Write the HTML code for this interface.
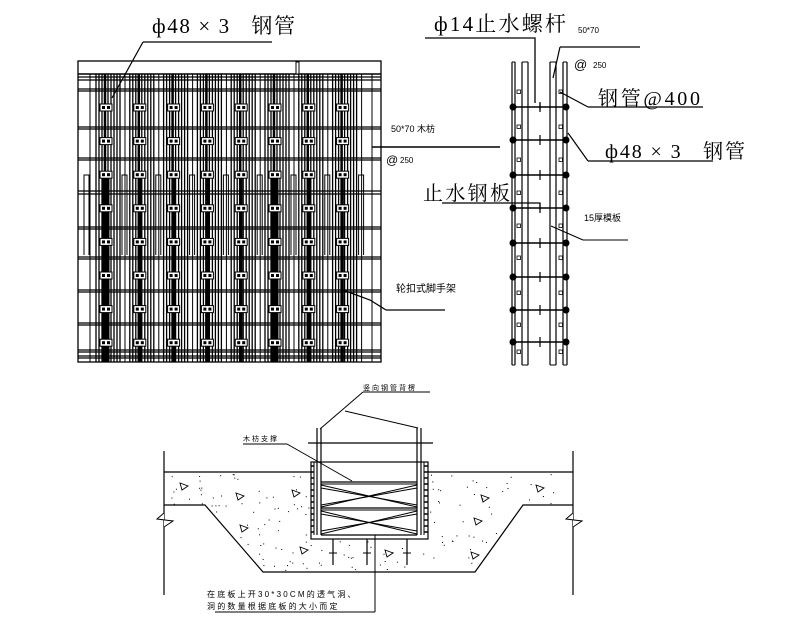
<!DOCTYPE html>
<html><head><meta charset="utf-8"><style>
html,body{margin:0;padding:0;background:#fff;width:800px;height:632px;overflow:hidden}
svg{display:block}
text{font-family:"Liberation Sans","Noto Sans CJK SC",sans-serif;fill:#000}
.s{font-family:"Liberation Serif","Noto Serif CJK SC","Noto Sans CJK SC",serif}
</style></head><body>
<svg id="g" width="800" height="632" viewBox="0 0 800 632" xmlns="http://www.w3.org/2000/svg" stroke="#000" fill="none">
<text class="s" x="152" y="33" font-size="21" stroke="none" textLength="143" lengthAdjust="spacing">ф48 × 3&#160;&#160;&#160;钢管</text>
<text class="s" x="434" y="31" font-size="21" stroke="none" textLength="132" lengthAdjust="spacing">ф14止水螺杆</text>
<text x="578" y="33" font-size="8" stroke="none">50*70</text>
<text x="574" y="69" font-size="13" stroke="none">@</text><text x="593" y="68" font-size="8" stroke="none">250</text>
<text class="s" x="598" y="105" font-size="20" stroke="none" textLength="102" lengthAdjust="spacing">钢管@400</text>
<text class="s" x="605" y="158" font-size="20" stroke="none" textLength="140" lengthAdjust="spacing">ф48 × 3&#160;&#160;&#160;钢管</text>
<text class="s" x="423" y="200" font-size="20" stroke="none" textLength="87" lengthAdjust="spacing">止水钢板</text>
<text x="584" y="221" font-size="9" stroke="none">15厚模板</text>
<text x="391" y="132" font-size="9" stroke="none">50*70 木枋</text>
<text x="386" y="164" font-size="12" stroke="none">@</text><text x="400" y="163" font-size="8" stroke="none">250</text>
<text x="396" y="292" font-size="10" stroke="none">轮扣式脚手架</text>
<text x="363" y="390" font-size="7" stroke="none" letter-spacing="2">竖向钢管背楞</text>
<text x="243" y="441" font-size="7" stroke="none" letter-spacing="2">木枋支撑</text>
<text x="207" y="597" font-size="8" stroke="none" letter-spacing="2.2">在底板上开30*30CM的透气洞、</text>
<text x="207" y="609" font-size="8" stroke="none" letter-spacing="2.2">洞的数量根据底板的大小而定</text>
<path d="M143 42H272M143 42L112 98" stroke-width="1.2"/>
<path d="M372 147H500" stroke-width="1.5"/>
<path d="M386 310H445M386 310L370 300L343 290" stroke-width="1.2"/>
<path d="M425 38H535V103" stroke-width="1.3"/>
<path d="M560 47H640M560 47L553 78" stroke-width="1.2"/>
<path d="M588 107H703M588 107L560 92" stroke-width="1.2"/>
<path d="M588 161H713M588 161L568 133" stroke-width="1.2"/>
<path d="M442 203H540V210" stroke-width="1.2"/>
<path d="M583 240H628M583 240L551 226" stroke-width="1"/>
</svg>
<script>
var s=document.getElementById('g'),o='';
function L(x1,y1,x2,y2,w){o+='<line x1="'+x1+'" y1="'+y1+'" x2="'+x2+'" y2="'+y2+'" stroke-width="'+(w||1)+'"/>';}
function R(x,y,w,h,sw,f){o+='<rect x="'+x+'" y="'+y+'" width="'+w+'" height="'+h+'" stroke-width="'+(sw||1)+'" fill="'+(f||'none')+'"/>';}
R(78,61,303,301,1.3);
L(78,74,381,74,1.5);
var hy=[77,80,89,91,127,129,158,160,191,194,227,229,257,259,290,292,323,325,350,352,356,358];
hy.forEach(function(y){L(78,y,381,y,1.2)});
for(var i=0;i<8;i++){
 var c=108+i*33.8;
 [-12,-9,-6,-3,0,3,6,9,12].forEach(function(d){L(c+d,74,c+d,362,1.3)});
 L(c-3,74,c-3,362,2.5);
 var thick=(i==0||i==5)?7:(i==1||i==2||i==3||i==6)?4:2.5;
 L(c-2,175,c-2,362,thick);
 for(var k=0;k<8;k++){var y=107+k*33.6;R(c-8,y-3,12,7,1,'#fff');o+='<rect x="'+(c-6)+'" y="'+(y-1)+'" width="3" height="3" fill="#000" stroke="none"/>';o+='<rect x="'+(c-1)+'" y="'+(y-1)+'" width="3" height="3" fill="#000" stroke="none"/>';}
 L(c+17,74,c+17,362,1);
 o+='<path d="M'+(c+14)+' 255V175H'+(c+19)+'V255" stroke-width="1"/>';
}
L(90,74,90,362,1);L(372,74,372,362,1);o+='<path d="M84 255V175H89V255" stroke-width="1"/>';
R(296,62,3,12,0,'#fff');
[[512,1.2],[515,1.2],[522,1.2],[528,1.2],[550,1.2],[556,1.2],[563,1.2],[567,1.2]].forEach(function(a){L(a[0],62,a[0],365,a[1])});
L(512,62,515,62);L(522,62,528,62);L(550,62,556,62);L(563,62,567,62);
L(512,365,515,365);L(522,365,528,365);L(550,365,556,365);L(563,365,567,365);
[107,140,175,208,243,277,310,342].forEach(function(y){L(512,y,567,y,1.5);o+='<circle cx="513" cy="'+y+'" r="3" fill="#000"/><circle cx="566" cy="'+y+'" r="3" fill="#000"/>';L(540,y-5,540,y+5,1.2);});
[92,127,160,193,226,258,293,325,352].forEach(function(y){o+='<rect x="517" y="'+(y-2)+'" width="3.5" height="3.5" stroke-width="0.8"/><rect x="559" y="'+(y-2)+'" width="3.5" height="3.5" stroke-width="0.8"/>';});
L(540,103,540,110,1.2);
L(164,451,164,595,1.2);L(573,451,573,595,1.2);
L(164,472,311,472,1.2);L(428,472,573,472,1.2);
o+='<path d="M164 505H205L263 572H475L523 505H573" stroke-width="1.2"/>';
o+='<path d="M164 513L157 519L173 521L164 527" stroke-width="1" fill="#fff"/>';
o+='<path d="M573 513L566 519L582 521L573 527" stroke-width="1" fill="#fff"/>';
var seed=7;function rnd(){seed=(seed*9301+49297)%233280;return seed/233280;}
for(var k=0;k<260;k++){var x=166+rnd()*405,y=474+rnd()*96;var inside=(y<505)||(x>205+(y-505)*58/67&&x<523-(y-505)*48/67);if(!inside)continue;if(x>309&&x<430&&y<540)continue;o+='<rect x="'+x.toFixed(1)+'" y="'+y.toFixed(1)+'" width="1" height="1" fill="#000" stroke="none"/>';}
[[180,483],[236,493],[292,490],[240,525],[300,547],[385,550],[471,552],[474,518],[536,485],[481,495]].forEach(function(p){o+='<path d="M'+p[0]+' '+p[1]+'l8 3l-6 4z" stroke-width="0.9"/>';});
R(311,462,117,77,1.2,'#fff');
L(317,428,317,535,1.2);L(321,428,321,535,1.2);L(417,428,417,535,1.2);L(421,428,421,535,1.2);
L(314,462,314,535);L(424,462,424,535);
for(var y=466;y<535;y+=6){L(311,y,314,y,1.5);L(424,y,428,y,1.5);}
L(308,443,433,443,1.2);
L(321,482,417,482,1.2);L(321,484,417,484);
L(321,508,417,508,1.2);L(321,510,417,510);
L(321,535,417,535,1.2);
L(321,485,417,507);L(321,488,417,505);L(417,485,321,507);L(417,488,321,505);
L(321,511,417,534);L(321,514,417,531);L(417,511,321,534);L(417,514,321,531);
[333,367,407].forEach(function(x){L(x,539,x,565,1.2);L(x-4,553,x+4,553,1);});
L(363,392,430,392,1);L(363,392,320,429,1);L(345,411,418,428,1);
L(243,444,287,444,1);L(287,444,352,481,1);
L(375,535,375,612,1);L(215,612,375,612,1);
s.insertAdjacentHTML('beforeend',o);
</script>
</body></html>
